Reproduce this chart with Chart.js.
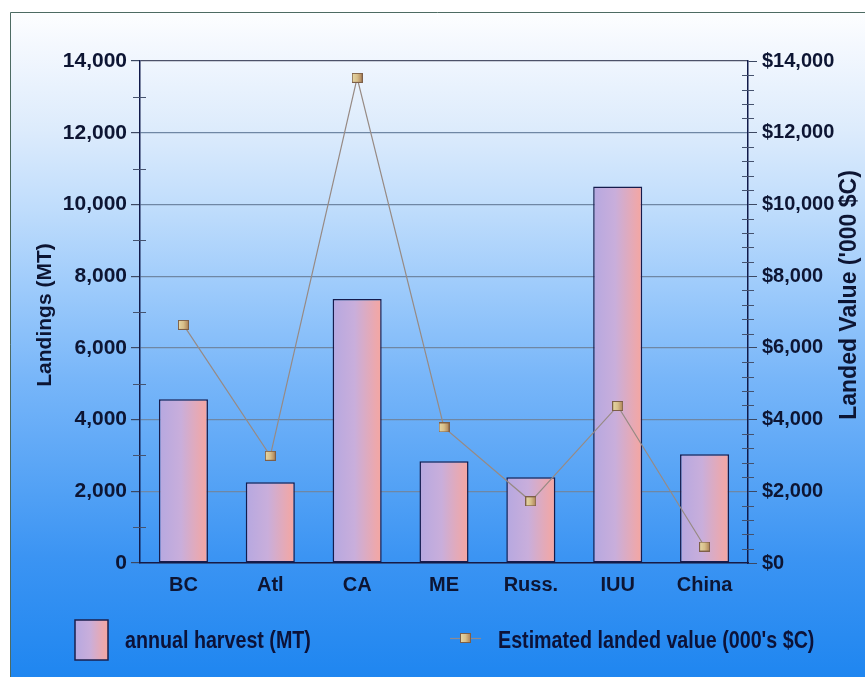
<!DOCTYPE html>
<html>
<head>
<meta charset="utf-8">
<script src="https://cdn.jsdelivr.net/npm/chart.js@4.4.0/dist/chart.umd.min.js"></script>
<style>
  html, body { margin: 0; padding: 0; background: #fff; }
  #wrap { width: 865px; height: 677px; }
</style>
</head>
<body>
<div id="wrap"><canvas id="harvestChart" width="865" height="677"></canvas></div>
<script>
const categories = ['BC', 'Atl', 'CA', 'ME', 'Russ.', 'IUU', 'China'];
const harvestMT = [4570, 2250, 7360, 2840, 2390, 10500, 3030];
const landedValue = [6640, 2990, 13530, 3780, 1720, 4380, 460];
const harvestLabel = 'annual harvest (MT)';
const valueLabel = "Estimated landed value (000's $C)";

const FONT = "'Liberation Sans', Arial, sans-serif";
const INK = '#0d1533';
const BAR_PCT = 0.565;

// small square marker used for the line points and the legend
const makeMarker = () => {
    const c = document.createElement('canvas');
    c.width = 11; c.height = 10;
    const g = c.getContext('2d');
    const grad = g.createLinearGradient(0, 0, 11, 0);
    grad.addColorStop(0, '#e6d9a8');
    grad.addColorStop(0.5, '#d8bf8a');
    grad.addColorStop(1, '#a97c52');
    g.fillStyle = grad;
    g.fillRect(0, 0, 11, 10);
    g.strokeStyle = '#7d5f48';
    g.lineWidth = 1;
    g.strokeRect(0.5, 0.5, 10, 9);
    return c;
};
const marker = makeMarker();

const barGradient = (ctx, x0, x1) => {
    const grad = ctx.createLinearGradient(x0, 0, x1, 0);
    grad.addColorStop(0, '#b6a8e0');
    grad.addColorStop(0.45, '#c9aedb');
    grad.addColorStop(1, '#f6a6a0');
    return grad;
};

const backdrop = {
    id: 'backdrop',
    beforeDraw(chart) {
        const { ctx, width, height } = chart;
        ctx.save();
        ctx.fillStyle = '#ffffff';
        ctx.fillRect(0, 0, width, height);
        const g = ctx.createLinearGradient(0, 12, 0, height);
        g.addColorStop(0, '#fdfeff');
        g.addColorStop(0.05, '#f4f8fe');
        g.addColorStop(0.18, '#dcebfc');
        g.addColorStop(0.3, '#bedcfc');
        g.addColorStop(0.42, '#9ccafb');
        g.addColorStop(0.55, '#78b6f9');
        g.addColorStop(0.68, '#5ba6f6');
        g.addColorStop(0.82, '#3b94f3');
        g.addColorStop(1, '#1f86f0');
        ctx.fillStyle = g;
        ctx.fillRect(10, 12, width - 10, height - 12);
        ctx.strokeStyle = '#4d6b63';
        ctx.lineWidth = 1;
        ctx.beginPath();
        ctx.moveTo(10.5, height);
        ctx.lineTo(10.5, 12.5);
        ctx.lineTo(width, 12.5);
        ctx.stroke();
        ctx.restore();
    }
};

const extras = {
    id: 'extras',
    afterDraw(chart) {
        const { ctx } = chart;
        const y = chart.scales.y, y1 = chart.scales.y1;
        ctx.save();
        ctx.strokeStyle = '#45526e';
        ctx.lineWidth = 1;
        ctx.beginPath();
        for (let v = 1000; v < 14000; v += 2000) {
            const py = Math.round(y.getPixelForValue(v)) + 0.5;
            ctx.moveTo(y.right - 7, py);
            ctx.lineTo(y.right + 6, py);
        }
        for (let v = 400; v < 14000; v += 400) {
            if (v % 2000 === 0) continue;
            const py = Math.round(y1.getPixelForValue(v)) + 0.5;
            ctx.moveTo(y1.left - 6, py);
            ctx.lineTo(y1.left + 6, py);
        }
        ctx.stroke();

        // axis titles, both reading bottom to top
        ctx.fillStyle = INK;
        ctx.textAlign = 'center';
        ctx.textBaseline = 'middle';
        ctx.font = 'bold 21px ' + FONT;
        ctx.save();
        ctx.translate(45, 315);
        ctx.rotate(-Math.PI / 2);
        ctx.fillText('Landings (MT)', 0, 0);
        ctx.restore();
        ctx.font = 'bold 23px ' + FONT;
        ctx.save();
        ctx.translate(850, 295);
        ctx.rotate(-Math.PI / 2);
        ctx.fillText("Landed Value ('000 $C)", 0, 0);
        ctx.restore();

        // legend
        ctx.fillStyle = barGradient(ctx, 75, 108);
        ctx.fillRect(75, 620, 33, 40);
        ctx.strokeStyle = '#1a1f4e';
        ctx.lineWidth = 1.5;
        ctx.strokeRect(75, 620, 33, 40);

        ctx.strokeStyle = '#8e8a90';
        ctx.lineWidth = 1.2;
        ctx.beginPath();
        ctx.moveTo(450, 638.5);
        ctx.lineTo(481, 638.5);
        ctx.stroke();
        ctx.drawImage(marker, 460, 633);

        ctx.font = 'bold 24px ' + FONT;
        ctx.textAlign = 'left';
        ctx.fillStyle = '#0c1238';
        [[125, harvestLabel], [498, valueLabel]].forEach(([x, text]) => {
            ctx.save();
            ctx.translate(x, 641);
            ctx.scale(0.82, 1);
            ctx.fillText(text, 0, 0);
            ctx.restore();
        });
        ctx.restore();
    }
};

const tickFont = { family: FONT, size: 20, weight: 'bold' };

new Chart(document.getElementById('harvestChart'), {
    data: {
        labels: categories,
        datasets: [
            {
                type: 'line',
                label: valueLabel,
                data: landedValue,
                yAxisID: 'y1',
                borderColor: '#978a84',
                borderWidth: 1.2,
                pointStyle: marker,
                pointRadius: 5,
                tension: 0,
                order: 0
            },
            {
                type: 'bar',
                label: harvestLabel,
                data: harvestMT,
                yAxisID: 'y',
                backgroundColor: (c) => {
                    const x = c.chart.scales.x;
                    if (!x || !c.chart.chartArea) return '#c8aedc';
                    const cx = x.getPixelForValue(c.dataIndex);
                    const half = (x.width / categories.length) * BAR_PCT / 2;
                    return barGradient(c.chart.ctx, cx - half, cx + half);
                },
                borderColor: '#161c4c',
                borderWidth: 1.5,
                borderSkipped: false,
                categoryPercentage: 1,
                barPercentage: BAR_PCT,
                order: 1
            }
        ]
    },
    options: {
        responsive: false,
        animation: false,
        layout: { padding: { top: 61, bottom: 74, left: 0, right: 0 } },
        plugins: { legend: { display: false }, tooltip: { enabled: false } },
        scales: {
            x: {
                offset: true,
                grid: { display: true, drawOnChartArea: false, drawTicks: false, color: 'rgba(0,0,0,0)' },
                border: { color: '#141a48', width: 1.5 },
                ticks: { color: INK, font: tickFont, padding: 10 },
                afterFit: (s) => { s.height = 40; }
            },
            y: {
                position: 'left',
                min: 0,
                max: 14000,
                ticks: {
                    stepSize: 2000,
                    color: INK,
                    font: { family: FONT, size: 21, weight: 'bold' },
                    padding: 4,
                    callback: (v) => v.toLocaleString('en-US')
                },
                grid: {
                    color: (c) => c.tick && c.tick.value === 14000 ? '#4c5168' : '#6f87a4',
                    lineWidth: 1.2,
                    tickLength: 9,
                    tickColor: '#3c4862'
                },
                border: { color: '#111a4a', width: 1.5 },
                afterFit: (s) => { s.width = 140; }
            },
            y1: {
                position: 'right',
                min: 0,
                max: 14000,
                ticks: {
                    stepSize: 2000,
                    color: INK,
                    font: tickFont,
                    padding: 5,
                    callback: (v) => '$' + v.toLocaleString('en-US')
                },
                grid: { drawOnChartArea: false, tickLength: 9, tickColor: '#3c4862' },
                border: { color: '#111a4a', width: 1.5 },
                afterFit: (s) => { s.width = 117; }
            }
        }
    },
    plugins: [backdrop, extras]
});
</script>
</body>
</html>
